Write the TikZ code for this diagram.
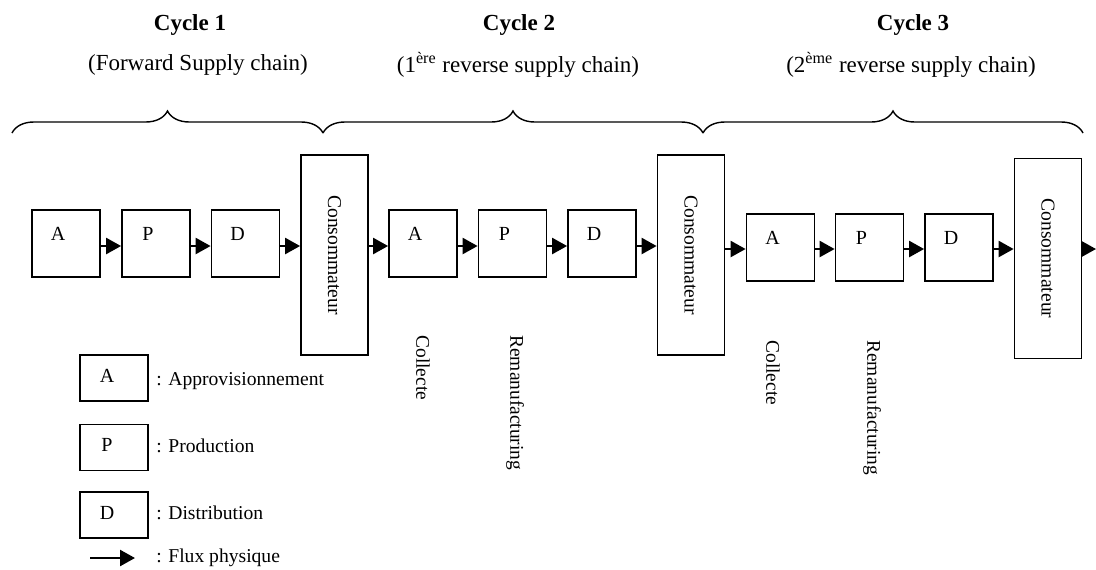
\documentclass[tikz,border=0pt]{standalone}
\usepackage{fontspec}
\setmainfont{Liberation Serif}
\usetikzlibrary{arrows.meta,decorations.pathreplacing}
\begin{document}
\begin{tikzpicture}[x=0.5pt,y=-0.5pt,
  box/.style={draw,line width=0.9pt,minimum width=34pt,minimum height=33.5pt,inner sep=0pt,font=\fontsize{10}{12}\selectfont},
  consbox/.style={draw,line width=0.9pt,minimum width=33.5pt,minimum height=100pt,inner sep=0pt,font=\fontsize{9.8}{12}\selectfont},
  legbox/.style={draw,line width=0.9pt,minimum width=34pt,minimum height=23pt,inner sep=0pt,font=\fontsize{10}{12}\selectfont},
  boxlbl/.style={label={[xshift=-4pt,yshift=5pt,font=\fontsize{10}{12}\selectfont]center:#1}},
  flow/.style={line width=1.2pt,-{Triangle[length=7.5pt,width=8pt]}},
  vtext/.style={rotate=-90,anchor=west,inner sep=0pt,font=\fontsize{9.7}{12}\selectfont},
  legtext/.style={anchor=west,inner sep=0pt,font=\fontsize{9.8}{12}\selectfont},
  ttl/.style={font=\fontsize{11.5}{14}\selectfont\bfseries},
  sub/.style={font=\fontsize{11.5}{14}\selectfont},
  brc/.style={line width=0.7pt,decorate,decoration={brace,amplitude=11pt}}]
\useasboundingbox (0,0) rectangle (1096,569);

% titles
\node[ttl] (t1) at (190,25) {Cycle 1};
\node[sub] (s1) at (198,65) {(Forward Supply chain)};
\node[ttl] (t2) at (519,25) {Cycle 2};
\node[sub] (s2) at (518,65) {(1\textsuperscript{ère} reverse supply chain)};
\node[ttl] (t3) at (913,25) {Cycle 3};
\node[sub] (s3) at (911,65) {(2\textsuperscript{ème} reverse supply chain)};

% braces
\coordinate (b0) at (12,133);
\coordinate (b1) at (323,133);
\coordinate (b2) at (703,133);
\coordinate (b3) at (1083,133);
\draw[brc] (b0) -- (b1);
\draw[brc] (b1) -- (b2);
\draw[brc] (b2) -- (b3);

% cycle 1
\node[box,boxlbl=A] (A1) at (66,243.5) {};
\node[box,boxlbl=P] (P1) at (156,243.5) {};
\node[box,boxlbl=D] (D1) at (245.5,243.5) {};
\node[consbox] (C1) at (334.5,255) {\rotatebox{-90}{Consommateur}};
% cycle 2
\node[box,boxlbl=A] (A2) at (423,243.5) {};
\node[box,boxlbl=P] (P2) at (512.5,243.5) {};
\node[box,boxlbl=D] (D2) at (602,243.5) {};
\node[consbox] (C2) at (691,255) {\rotatebox{-90}{Consommateur}};
% cycle 3
\node[box,boxlbl=A] (A3) at (780.5,247.5) {};
\node[box,boxlbl=P] (P3) at (869.5,247.5) {};
\node[box,boxlbl=D] (D3) at (959,247.5) {};
\node[consbox] (C3) at (1048,258.5) {\rotatebox{-90}{Consommateur}};
\coordinate (end) at (1096,249);

% arrows
\draw[flow] ([yshift=-1.25pt]A1.east) -- ([yshift=-1.25pt]P1.west);
\draw[flow] ([yshift=-1.25pt]P1.east) -- ([yshift=-1.25pt]D1.west);
\draw[flow] ([yshift=-1.25pt]D1.east) -- ([yshift=-1.25pt]D1.east -| C1.west);
\draw[flow] ([yshift=-1.25pt]A2.west -| C1.east) -- ([yshift=-1.25pt]A2.west);
\draw[flow] ([yshift=-1.25pt]A2.east) -- ([yshift=-1.25pt]P2.west);
\draw[flow] ([yshift=-1.25pt]P2.east) -- ([yshift=-1.25pt]D2.west);
\draw[flow] ([yshift=-1.25pt]D2.east) -- ([yshift=-1.25pt]D2.east -| C2.west);
\draw[flow] ([yshift=-0.75pt]A3.west -| C2.east) -- ([yshift=-0.75pt]A3.west);
\draw[flow] ([yshift=-0.75pt]A3.east) -- ([yshift=-0.75pt]P3.west);
\draw[flow] ([yshift=-0.75pt]P3.east) -- ([yshift=-0.75pt]D3.west);
\draw[flow] ([yshift=-0.75pt]D3.east) -- ([yshift=-0.75pt]D3.east -| C3.west);
\draw[flow] (end -| C3.east) -- (end);

% vertical labels
\node[vtext] (col2) at (423,335) {Collecte};
\node[vtext] (rem2) at (515,335) {Remanufacturing};
\node[vtext] (col3) at (773,340) {Collecte};
\node[vtext] (rem3) at (872,340) {Remanufacturing};

% legend
\node[legbox] (LA) at (114,378) {};
\node[font=\fontsize{10}{12}\selectfont] (LAt) at (107,376) {A};
\node[legtext] (LAd) at (156,381) {: Approvisionnement};
\node[legbox] (LP) at (114,447.5) {};
\node[font=\fontsize{10}{12}\selectfont] (LPt) at (107,445) {P};
\node[legtext] (LPd) at (156,446) {: Production};
\node[legbox] (LD) at (114,515) {};
\node[font=\fontsize{10}{12}\selectfont] (LDt) at (107,513) {D};
\node[legtext] (LDd) at (156,513) {: Distribution};
\coordinate (fa) at (90,558);
\coordinate (fb) at (135,558);
\draw[flow] (fa) -- (fb);
\node[legtext] (LFd) at (156,558) {: Flux physique};
\end{tikzpicture}
\end{document}
